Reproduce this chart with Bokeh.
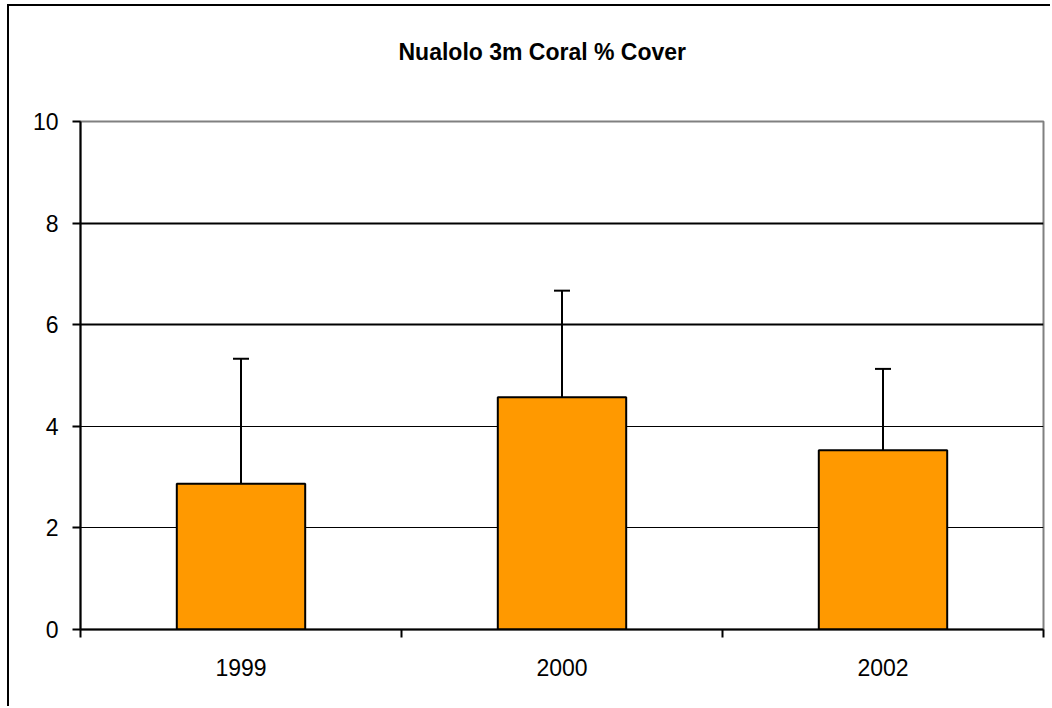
from bokeh.plotting import figure
from bokeh.models import ColumnDataSource, Whisker, TeeHead, FixedTicker, Grid, Title
from bokeh.embed import file_html
from bokeh.resources import INLINE

title_text = "Nualolo 3m Coral % Cover"
years = ["1999", "2000", "2002"]
cover = [2.87, 4.57, 3.53]
upper = [5.33, 6.67, 5.13]
y_ticks = [0, 2, 4, 6, 8, 10]

xs = [i + 0.5 for i in range(len(years))]
src = ColumnDataSource(dict(x=xs, top=cover, upper=upper, year=years))

p = figure(width=1043, height=702, x_range=(0, len(years)), y_range=(0, 10),
           output_backend="svg", toolbar_location=None,
           min_border_left=71, min_border_right=9, min_border_top=115, min_border_bottom=79)
p.styles = {"border-left": "2px solid black", "border-top": "2px solid black",
            "margin-left": "7px", "margin-top": "4px"}

p.vbar(x="x", top="top", width=0.4, bottom=0, source=src,
       fill_color="#FF9900", line_color="black", line_width=2)

wh = Whisker(source=src, base="x", upper="upper", lower="top",
             upper_head=TeeHead(size=16, line_width=2, line_color="black"),
             lower_head=None, line_width=2, line_color="black")
p.add_layout(wh)

# grid
p.xgrid.visible = False
p.ygrid.ticker = FixedTicker(ticks=[2, 4])
p.ygrid.grid_line_color = "black"
p.ygrid.grid_line_width = 1
g2 = Grid(dimension=1, ticker=FixedTicker(ticks=[6, 8]), grid_line_color="black", grid_line_width=2)
p.add_layout(g2)

p.outline_line_color = "#808080"
p.outline_line_width = 2

# y axis
p.yaxis.ticker = FixedTicker(ticks=y_ticks)
p.yaxis.axis_line_color = "black"
p.yaxis.axis_line_width = 2
p.yaxis.major_tick_in = 0
p.yaxis.major_tick_out = 8
p.yaxis.major_tick_line_width = 2
p.yaxis.minor_tick_line_color = None
p.yaxis.major_label_text_font = "Liberation Sans"
p.yaxis.major_label_text_font_size = "23px"
p.yaxis.major_label_text_color = "black"
p.yaxis.major_label_standoff = 14

# x axis
p.xaxis.ticker = FixedTicker(ticks=xs, minor_ticks=list(range(len(years) + 1)))
p.xaxis.major_label_overrides = {x: y for x, y in zip(xs, years)}
p.xaxis.axis_line_color = "black"
p.xaxis.axis_line_width = 2
p.xaxis.major_tick_line_color = None
p.xaxis.major_tick_in = 0
p.xaxis.major_tick_out = 0
p.xaxis.minor_tick_in = 0
p.xaxis.minor_tick_out = 8
p.xaxis.minor_tick_line_width = 2
p.xaxis.minor_tick_line_color = "black"
p.xaxis.major_label_text_font = "Liberation Sans"
p.xaxis.major_label_text_font_size = "23px"
p.xaxis.major_label_text_color = "black"
p.xaxis.major_label_standoff = 21

p.title = Title(text=title_text, align="left", offset=318, vertical_align="bottom",
                padding=dict(left=0, right=0, top=0, bottom=57),
                text_font="Liberation Sans", text_font_style="bold",
                text_font_size="23px", text_color="black", standoff=0)

open("out.html", "w").write(file_html(p, INLINE))
